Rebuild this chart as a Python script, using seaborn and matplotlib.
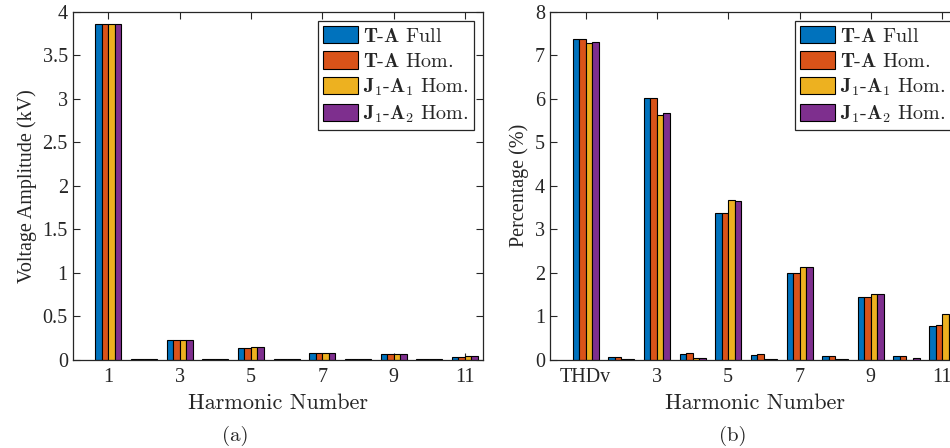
import numpy as np
import pandas as pd
import matplotlib
matplotlib.use('Agg')
import matplotlib.pyplot as plt
import seaborn as sns

# ---------------- datos ----------------
series = [r'$\mathbf{T}$-$\mathbf{A}$ Full',
          r'$\mathbf{T}$-$\mathbf{A}$ Hom.',
          r'$\mathbf{J}_1$-$\mathbf{A}_1$ Hom.',
          r'$\mathbf{J}_1$-$\mathbf{A}_2$ Hom.']
colores = ['#0072BD', '#D95319', '#EDB120', '#7E2F8E']

armonicos = ['1', '2', '3', '4', '5', '6', '7', '8', '9', '10', '11']
volt_ta_full = [3.86, 0.003, 0.23, 0.003, 0.13, 0.003, 0.08, 0.003, 0.06, 0.003, 0.03]
volt_ta_hom = [3.86, 0.003, 0.23, 0.003, 0.13, 0.003, 0.08, 0.003, 0.06, 0.003, 0.03]
volt_j1a1 = [3.86, 0.003, 0.22, 0.003, 0.14, 0.003, 0.08, 0.003, 0.06, 0.003, 0.04]
volt_j1a2 = [3.86, 0.003, 0.22, 0.003, 0.14, 0.003, 0.08, 0.003, 0.06, 0.003, 0.04]

categorias_thd = ['THDv', '2', '3', '4', '5', '6', '7', '8', '9', '10', '11']
pct_ta_full = [7.38, 0.06, 6.02, 0.12, 3.38, 0.11, 2.00, 0.07, 1.45, 0.09, 0.78]
pct_ta_hom = [7.38, 0.06, 6.02, 0.15, 3.38, 0.13, 2.00, 0.08, 1.43, 0.07, 0.80]
pct_j1a1 = [7.29, 0.02, 5.63, 0.03, 3.68, 0.01, 2.13, 0.01, 1.51, 0.00, 1.04]
pct_j1a2 = [7.32, 0.02, 5.68, 0.03, 3.64, 0.01, 2.13, 0.01, 1.51, 0.04, 1.03]

ticks_idx = [0, 2, 4, 6, 8, 10]
ticks_a = ['1', '3', '5', '7', '9', '11']
ticks_b = ['THDv', '3', '5', '7', '9', '11']


def armar_df(cats, valores):
    filas = []
    for nombre, vals in zip(series, valores):
        for c, v in zip(cats, vals):
            filas.append({'cat': c, 'val': v, 'serie': nombre})
    return pd.DataFrame(filas)


df_a = armar_df(armonicos, [volt_ta_full, volt_ta_hom, volt_j1a1, volt_j1a2])
df_b = armar_df(categorias_thd, [pct_ta_full, pct_ta_hom, pct_j1a1, pct_j1a2])

sns.set_style('white')
plt.rcParams['font.family'] = ['Liberation Serif', 'DejaVu Serif']
plt.rcParams['mathtext.fontset'] = 'cm'

GRIS = '#262626'
fig = plt.figure(figsize=(9.5, 4.48), dpi=100)
ax1 = fig.add_axes([0.0765, 0.1975, 0.4316, 0.7757])
ax2 = fig.add_axes([0.5789, 0.1975, 0.4316, 0.7757])


def dibujar(ax, df, cats, ylim, yticks, yticklabels, ticklabels, ylabel):
    sns.barplot(data=df, x='cat', y='val', hue='serie', order=cats,
                hue_order=series, palette=colores, width=0.73,
                edgecolor='black', linewidth=0.8, ax=ax, errorbar=None,
                saturation=1)
    ax.set_xlim(-1, 10.5)
    ax.set_ylim(*ylim)
    ax.set_yticks(yticks)
    ax.set_yticklabels(yticklabels)
    ax.set_xticks(ticks_idx)
    ax.set_xticklabels(ticklabels)
    ax.tick_params(direction='in', length=5, width=0.8, labelsize=14.5,
                   top=True, right=True, bottom=True, left=True,
                   colors=GRIS, labelcolor=GRIS)
    ax.tick_params(axis='x', pad=6)
    for s in ax.spines.values():
        s.set_color(GRIS)
        s.set_linewidth(0.9)
    ax.set_xlabel('Harmonic Number', fontsize=16, family='cmr10',
                  color=GRIS, labelpad=5)
    ax.set_ylabel(ylabel, fontsize=14.5, color=GRIS, labelpad=4)
    h, l = ax.get_legend_handles_labels()
    leg = ax.legend(h, l, loc='upper right', frameon=True,
                    prop={'family': 'cmr10', 'size': 14.5},
                    fancybox=False, edgecolor=GRIS, framealpha=1,
                    handlelength=1.75, handleheight=0.95, labelspacing=0.28,
                    handletextpad=0.25, borderpad=0.25, borderaxespad=0.45)
    leg.get_frame().set_linewidth(0.9)


dibujar(ax1, df_a, armonicos, (0, 4), np.arange(0, 4.01, 0.5),
        ['0', '0.5', '1', '1.5', '2', '2.5', '3', '3.5', '4'],
        ticks_a, 'Voltage Amplitude (kV)')
dibujar(ax2, df_b, categorias_thd, (0, 8), np.arange(0, 9, 1),
        [str(i) for i in range(9)],
        ticks_b, 'Percentage (%)')

fig.text(0.248, 0.027, '(a)', ha='center', va='center', fontsize=15,
         family='cmr10', color=GRIS)
fig.text(0.771, 0.027, '(b)', ha='center', va='center', fontsize=15,
         family='cmr10', color=GRIS)

fig.savefig('out.png', dpi=100)
